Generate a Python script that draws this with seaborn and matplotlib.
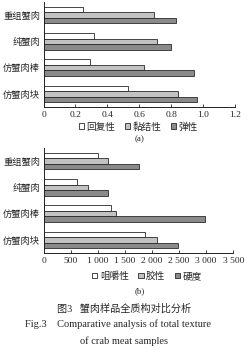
import matplotlib
matplotlib.use('Agg')
import matplotlib.pyplot as plt
import seaborn as sns
import pandas as pd

samples = ['重组蟹肉', '纯蟹肉', '仿蟹肉棒', '仿蟹肉块']
series_a = ['回复性', '黏结性', '弹性']
resilience = [0.245, 0.317, 0.29, 0.53]
cohesiveness = [0.69, 0.71, 0.63, 0.84]
springiness = [0.83, 0.80, 0.94, 0.96]
series_b = ['咀嚼性', '胶性', '硬度']
chewiness = [1000, 626, 1246, 1879]
gumminess = [1197, 817, 1332, 2087]
hardness = [1768, 1197, 2971, 2474]
xticks_a = [0, 0.2, 0.4, 0.6, 0.8, 1.0, 1.2]
xticklabels_a = ['0', '0.2', '0.4', '0.6', '0.8', '1.0', '1.2']
xticks_b = [0, 500, 1000, 1500, 2000, 2500, 3000, 3500]
xticklabels_b = ['0', '500', '1 000', '1 500', '2 000', '2 500', '3 000', '3 500']

sns.set_theme(style='ticks')
FAM = ['Liberation Serif', 'Noto Sans CJK SC']
plt.rcParams['font.family'] = FAM
plt.rcParams['axes.unicode_minus'] = False

palette = ['#ffffff', '#c2c2c2', '#8a8a8a']

def long_df(values_list, names):
    rows = []
    for name, vals in zip(names, values_list):
        for s, v in zip(samples, vals):
            rows.append({'sample': s, 'series': name, 'value': v})
    return pd.DataFrame(rows)

df_a = long_df([resilience, cohesiveness, springiness], series_a)
df_b = long_df([chewiness, gumminess, hardness], series_b)

fig = plt.figure(figsize=(2.49, 3.5), dpi=100)
W, H = 249, 350
ax_a = fig.add_axes([43.5 / W, 1 - 107 / H, (235.3 - 43.5) / W, 105 / H])
ax_b = fig.add_axes([43.5 / W, 1 - 253 / H, (233.3 - 43.5) / W, 105 / H])

def draw(ax, df, xticks, xticklabels, xmax, legend_xy, tag, tag_xy):
    sns.barplot(data=df, y='sample', x='value', hue='series', orient='h',
                palette=palette, edgecolor='#2a2a2a', linewidth=0.6,
                width=0.62, gap=0, ax=ax, errorbar=None, saturation=1)
    ax.set_xlim(0, xmax)
    ax.set_ylim(3.5, -0.5)
    ax.set_xticks(xticks)
    ax.set_xticklabels(xticklabels, fontsize=6.8, family=FAM)
    ax.set_yticks(range(len(samples)))
    ax.set_yticklabels(samples, fontsize=6.7, family=FAM)
    ax.tick_params(axis='y', length=0, pad=2.5)
    ax.tick_params(axis='x', length=2, width=0.6, direction='in', pad=3, color='#222')
    ax.set_xlabel('')
    ax.set_ylabel('')
    for s in ['top', 'right']:
        ax.spines[s].set_visible(False)
    for s in ['left', 'bottom']:
        ax.spines[s].set_linewidth(0.7)
        ax.spines[s].set_color('#222')
    handles, labels = ax.get_legend_handles_labels()
    if ax.get_legend() is not None:
        ax.get_legend().remove()
    fig.legend(handles, labels, loc='center', bbox_to_anchor=legend_xy,
               bbox_transform=fig.transFigure, ncol=3, frameon=False,
               handlelength=0.55, handleheight=0.55, handletextpad=0.25,
               columnspacing=1.0, prop={'family': FAM, 'size': 6.9})
    fig.text(tag_xy[0], tag_xy[1], tag, ha='center', va='center',
             fontsize=6.5, family=FAM)

draw(ax_a, df_a, xticks_a, xticklabels_a, 1.2, (0.556, 1 - 127 / H), '(a)', (0.56, 1 - 139 / H))
draw(ax_b, df_b, xticks_b, xticklabels_b, 3500, (0.59, 1 - 276 / H), '(b)', (0.563, 1 - 291 / H))

fig.text(0.5, 1 - 309 / H, '图3   蟹肉样品全质构对比分析', ha='center', va='center',
         fontsize=7.3, family=FAM)
fig.text(0.472, 1 - 324 / H, 'Fig.3    Comparative analysis of total texture', ha='center',
         va='center', fontsize=7.5, family=FAM)
fig.text(0.496, 1 - 341 / H, 'of crab meat samples', ha='center', va='center',
         fontsize=7.5, family=FAM)

fig.savefig('out.png', dpi=100)
